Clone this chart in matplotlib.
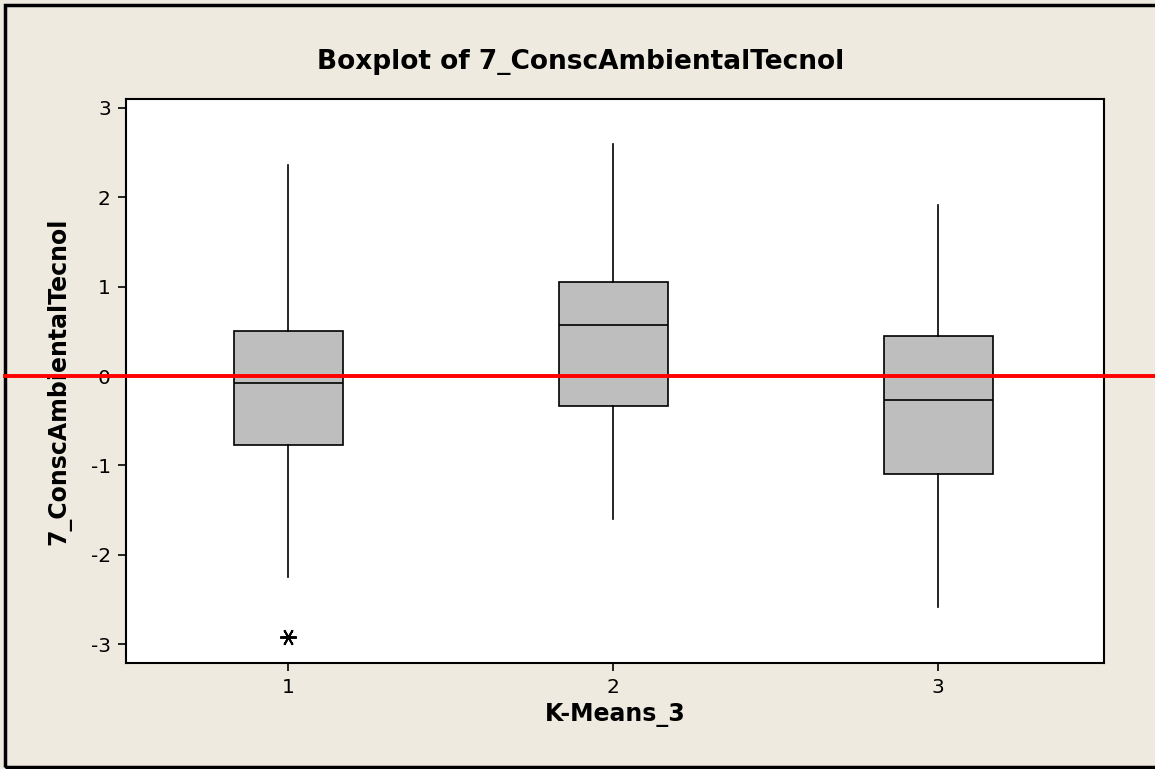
import numpy as np
import matplotlib.pyplot as plt
import matplotlib.transforms as mtransforms
from matplotlib.patches import Rectangle
from matplotlib.lines import Line2D

# box statistics
groups = ["1", "2", "3"]
whisker_low = [-2.25, -1.60, -2.58]
q1 = [-0.77, -0.33, -1.10]
median = [-0.08, 0.57, -0.27]
q3 = [0.50, 1.05, 0.45]
whisker_high = [2.36, 2.60, 1.91]
outliers = [[-2.92], [], []]

BG = "#eeeae0"

fig = plt.figure(figsize=(11.55, 7.69), dpi=100, facecolor=BG)
ax = fig.add_axes([126 / 1155, 1 - 663 / 769, (1104 - 126) / 1155, (663 - 99) / 769])
ax.set_facecolor("white")

stats = []
for i, g in enumerate(groups):
    stats.append(dict(label=g, whislo=whisker_low[i], q1=q1[i], med=median[i],
                      q3=q3[i], whishi=whisker_high[i], fliers=outliers[i]))

ax.bxp(stats, positions=[1, 2, 3], widths=0.335, patch_artist=True, showcaps=False,
       boxprops=dict(facecolor="#bebebe", edgecolor="black", linewidth=1.2),
       medianprops=dict(color="black", linewidth=1.2),
       whiskerprops=dict(color="black", linewidth=1.2),
       flierprops=dict(marker=(6, 2, 30), markersize=12, markeredgecolor="black",
                       markeredgewidth=1.4))

ax.set_xlim(0.5, 3.51)
ax.set_ylim(-3.21, 3.1)
ax.set_yticks([-3, -2, -1, 0, 1, 2, 3])
ax.set_yticklabels(["-3", "-2", "-1", "0", "1", "2", "3"])
ax.tick_params(direction="out", length=6, width=1.2, labelsize=14.5, pad=5)
for s in ax.spines.values():
    s.set_linewidth(1.5)

ax.set_xlabel("K-Means_3", fontsize=17, fontweight="bold", labelpad=4)
ax.set_ylabel("7_ConscAmbientalTecnol", fontsize=17, fontweight="bold", labelpad=14)
fig.text(0.503, 0.919, "Boxplot of 7_ConscAmbientalTecnol", ha="center", va="center",
         fontsize=19, fontweight="bold")

# reference line at 0 running across the whole figure
trans = mtransforms.blended_transform_factory(fig.transFigure, ax.transData)
fig.add_artist(Line2D([5 / 1155, 1.0], [0, 0], transform=trans, color="red", linewidth=2.8))

# outer frame
fig.add_artist(Rectangle((5 / 1155, 2 / 769), 1.2, 1 - 7 / 769, transform=fig.transFigure,
                         fill=False, edgecolor="black", linewidth=2.5))

fig.savefig("out.png", dpi=100, facecolor=BG)
